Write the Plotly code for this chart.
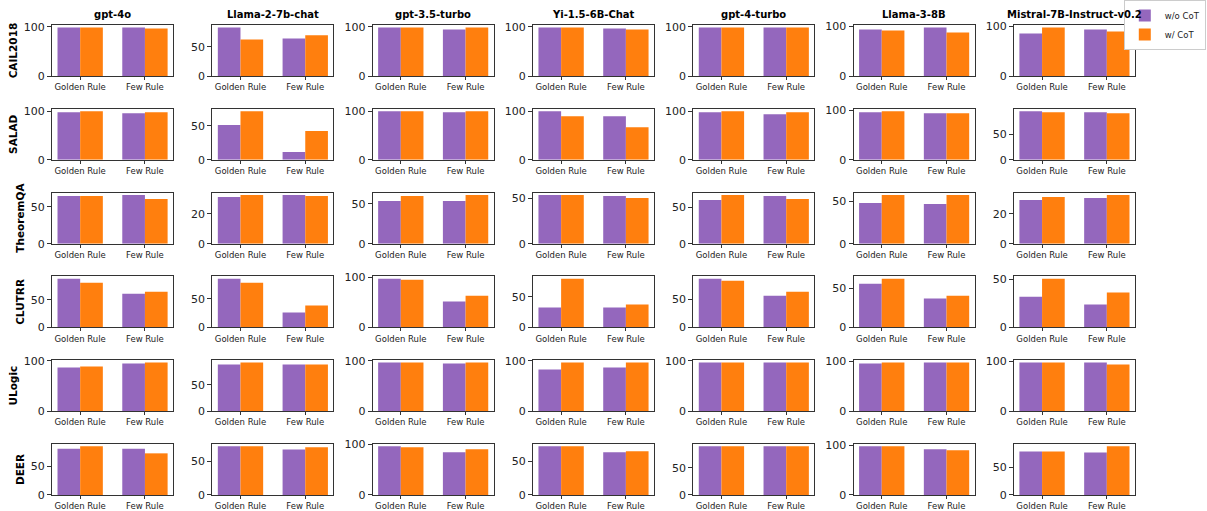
import plotly.graph_objects as go
from plotly.subplots import make_subplots

models = ["gpt-4o", "Llama-2-7b-chat", "gpt-3.5-turbo", "Yi-1.5-6B-Chat",
          "gpt-4-turbo", "Llama-3-8B", "Mistral-7B-Instruct-v0.2"]
datasets = ["CAIL2018", "SALAD", "TheoremQA", "CLUTRR", "ULogic", "DEER"]
settings = ["Golden Rule", "Few Rule"]
series_names = ["w/o CoT", "w/ CoT"]

# rows = datasets, cols = models
wo_golden = [
    [98.6, 82.8, 98.6, 98.6, 98.6, 93.3, 85.2],
    [98.0, 51.0, 100.0, 100.0, 98.0, 96.6, 94.2],
    [64.9, 31.3, 53.8, 53.3, 60.0, 48.0, 29.3],
    [88.6, 85.5, 97.4, 32.3, 86.5, 55.9, 31.8],
    [86.8, 88.1, 96.7, 82.9, 96.7, 96.0, 98.0],
    [80.8, 72.3, 96.0, 72.3, 89.0, 98.0, 78.9],
]
w_golden = [
    [98.6, 62.1, 98.6, 98.6, 98.6, 91.3, 97.3],
    [100.0, 71.4, 100.0, 89.8, 100.0, 98.7, 92.3],
    [64.9, 32.7, 60.0, 53.3, 66.8, 57.4, 31.3],
    [81.3, 78.5, 95.4, 79.0, 82.9, 62.3, 50.3],
    [88.8, 91.9, 96.7, 96.7, 96.7, 98.0, 98.0],
    [84.9, 72.3, 94.1, 72.3, 89.0, 98.0, 78.9],
]
wo_few = [
    [98.6, 63.8, 94.6, 96.6, 98.6, 97.3, 93.3],
    [96.0, 11.7, 98.0, 89.8, 93.9, 94.6, 92.3],
    [66.2, 32.7, 53.8, 52.2, 65.5, 46.9, 30.7],
    [61.4, 26.2, 51.7, 32.3, 56.5, 36.9, 23.6],
    [94.7, 88.1, 94.7, 86.8, 96.7, 98.0, 98.0],
    [80.8, 67.8, 84.2, 63.4, 89.0, 92.0, 77.1],
]
w_few = [
    [96.6, 69.5, 98.6, 94.6, 98.6, 87.2, 89.3],
    [98.0, 42.2, 100.0, 67.3, 98.0, 94.6, 90.4],
    [60.8, 32.0, 61.3, 50.0, 61.4, 57.4, 32.7],
    [65.1, 38.4, 63.6, 37.1, 63.5, 40.7, 36.0],
    [96.7, 88.1, 96.7, 96.7, 96.7, 98.0, 94.0],
    [72.7, 70.8, 90.1, 64.9, 89.0, 90.0, 88.0],
]

colors = ["#9467bd", "#ff7f0e"]
FONT = "DejaVu Sans"

nrows, ncols = len(datasets), len(models)
fig = make_subplots(
    rows=nrows, cols=ncols,
    subplot_titles=[f"<b>{m}</b>" for m in models] + [""] * (ncols * (nrows - 1)),
    horizontal_spacing=0.0362, vertical_spacing=0.0696,
)

for r in range(nrows):
    for c in range(ncols):
        wo = [wo_golden[r][c], wo_few[r][c]]
        w = [w_golden[r][c], w_few[r][c]]
        first = (r == 0 and c == 0)
        fig.add_trace(go.Bar(x=settings, y=wo, name=series_names[0],
                             marker=dict(color=colors[0], line=dict(width=0)),
                             showlegend=first, legendgroup="wo"), row=r + 1, col=c + 1)
        fig.add_trace(go.Bar(x=settings, y=w, name=series_names[1],
                             marker=dict(color=colors[1], line=dict(width=0)),
                             showlegend=first, legendgroup="w"), row=r + 1, col=c + 1)
        ymax = max(wo + w) * 1.05
        dt = 100 if ymax >= 100 else (50 if ymax >= 50 else 20)
        fig.update_yaxes(range=[0, ymax], dtick=dt, tick0=0, row=r + 1, col=c + 1)

fig.update_xaxes(range=[-0.435, 1.435], showline=True, mirror=True, linecolor="#333",
                 linewidth=1, ticks="outside", ticklen=3, tickcolor="#333",
                 tickfont=dict(size=8.5, color="#222", family=FONT), showgrid=False,
                 zeroline=False, automargin=False)
fig.update_yaxes(showline=True, mirror=True, linecolor="#333", linewidth=1,
                 ticks="outside", ticklen=4, tickcolor="#333",
                 tickfont=dict(size=11, color="#222", family=FONT), showgrid=False,
                 zeroline=False, automargin=False)

for r, d in enumerate(datasets):
    fig.update_yaxes(title=dict(text=f"<b>{d}</b>", font=dict(size=10.5, color="black", family=FONT),
                                standoff=4), row=r + 1, col=1)

for ann in fig.layout.annotations:
    ann.font = dict(size=10, color="black", family=FONT)
    ann.yshift = 3

fig.update_layout(
    width=1207, height=511, autosize=False,
    margin=dict(l=52, r=72, t=25, b=16, autoexpand=False),
    plot_bgcolor="white", paper_bgcolor="white",
    barmode="group", bargap=0.3, bargroupgap=0,
    font=dict(family=FONT, color="#222"),
    legend=dict(xref="container", yref="container", x=0.999, y=1.0,
                xanchor="right", yanchor="top",
                bgcolor="white", bordercolor="#cccccc", borderwidth=1,
                font=dict(size=8.5, family=FONT, color="#222"),
                tracegroupgap=0, itemwidth=30),
)

fig.write_html("out.html", config={"displayModeBar": False},
               post_script="document.body.style.margin='0';")
